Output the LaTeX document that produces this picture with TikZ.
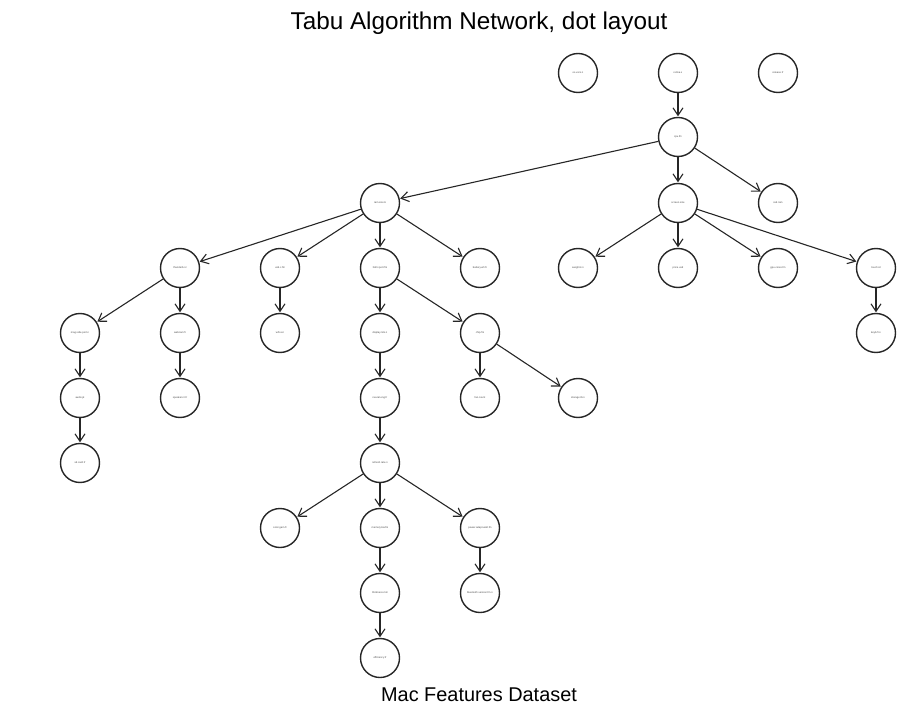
\documentclass[tikz,border=0pt]{standalone}
\usepackage{fontspec}
\setmainfont{Liberation Sans}
\usetikzlibrary{arrows.meta}
\begin{document}
\begin{tikzpicture}[x=1pt,y=-1pt,
  vtx/.style={circle,draw=black!85,line width=1.4pt,minimum size=39pt,inner sep=0pt,font=\fontsize{2.6}{3}\selectfont,text=black!70},
  arr/.style={-{Straight Barb[length=7.5pt,width=10pt,line width=1.1pt]},line width=1.1pt,black!85,shorten >=0.5pt}]
\useasboundingbox (0,0) rectangle (917,708);
\node[font=\fontsize{24.3}{28}\selectfont] (title) at (479,23) {Tabu Algorithm Network, dot layout};
\node[font=\fontsize{19.9}{23}\selectfont] (sub) at (479,695) {Mac Features Dataset};
% row 0
\node[vtx] (a1) at (578,73) {os.vers.n};
\node[vtx] (a2) at (678,73) {retina.s};
\node[vtx] (a3) at (778,73) {release.fr};
% row 1
\node[vtx] (b1) at (678,137) {cpu.fm};
% row 2
\node[vtx] (c1) at (380,203) {ram.size.b};
\node[vtx] (c2) at (678,203) {screen.size};
\node[vtx] (c3) at (778,203) {ssd.ram};
% row 3
\node[vtx] (d1) at (180,268) {thunderb.nr};
\node[vtx] (d2) at (280,268) {usb.c.fm};
\node[vtx] (d3) at (380,268) {hdmi.port.fm};
\node[vtx] (d4) at (480,268) {battery.wh.fr};
\node[vtx] (d5) at (578,268) {weight.k.n};
\node[vtx] (d6) at (678,268) {price.usd};
\node[vtx] (d7) at (778,268) {gpu.cores.fm};
\node[vtx] (d8) at (876,268) {touch.id};
% row 4
\node[vtx] (e1) at (80,333) {mag.safe.port.n};
\node[vtx] (e2) at (180,333) {webcam.fr};
\node[vtx] (e3) at (280,333) {wifi.ver};
\node[vtx] (e4) at (380,333) {display.nits.n};
\node[vtx] (e5) at (480,333) {chip.fm};
\node[vtx] (e6) at (876,333) {keyb.fr.n};
% row 5
\node[vtx] (f1) at (80,398) {audio.jk};
\node[vtx] (f2) at (180,398) {speaker.nr.fr};
\node[vtx] (f3) at (380,398) {neural.eng.fr};
\node[vtx] (f4) at (480,398) {fan.count};
\node[vtx] (f5) at (578,398) {storage.tb.n};
% row 6
\node[vtx] (g1) at (80,463) {sd.card.fr};
\node[vtx] (g2) at (380,463) {refresh.rate.n};
% row 7
\node[vtx] (h1) at (280,528) {color.gam.fr};
\node[vtx] (h2) at (380,528) {memory.bw.fm};
\node[vtx] (h3) at (480,528) {power.adapt.watt.fm};
% row 8
\node[vtx] (i1) at (380,593) {thickness.mm};
\node[vtx] (i2) at (480,593) {bluetooth.version.fm.n};
% row 9
\node[vtx] (j1) at (380,658) {efficiency.fr};
% edges
\draw[arr] (a2) -- (b1);
\draw[arr] (b1) -- (c1);
\draw[arr] (b1) -- (c2);
\draw[arr] (b1) -- (c3);
\draw[arr] (c1) -- (d1);
\draw[arr] (c1) -- (d2);
\draw[arr] (c1) -- (d3);
\draw[arr] (c1) -- (d4);
\draw[arr] (c2) -- (d5);
\draw[arr] (c2) -- (d6);
\draw[arr] (c2) -- (d7);
\draw[arr] (c2) -- (d8);
\draw[arr] (d1) -- (e1);
\draw[arr] (d1) -- (e2);
\draw[arr] (d2) -- (e3);
\draw[arr] (d3) -- (e4);
\draw[arr] (d3) -- (e5);
\draw[arr] (d8) -- (e6);
\draw[arr] (e1) -- (f1);
\draw[arr] (e2) -- (f2);
\draw[arr] (e4) -- (f3);
\draw[arr] (e5) -- (f4);
\draw[arr] (e5) -- (f5);
\draw[arr] (f1) -- (g1);
\draw[arr] (f3) -- (g2);
\draw[arr] (g2) -- (h1);
\draw[arr] (g2) -- (h2);
\draw[arr] (g2) -- (h3);
\draw[arr] (h2) -- (i1);
\draw[arr] (h3) -- (i2);
\draw[arr] (i1) -- (j1);
\end{tikzpicture}
\end{document}
